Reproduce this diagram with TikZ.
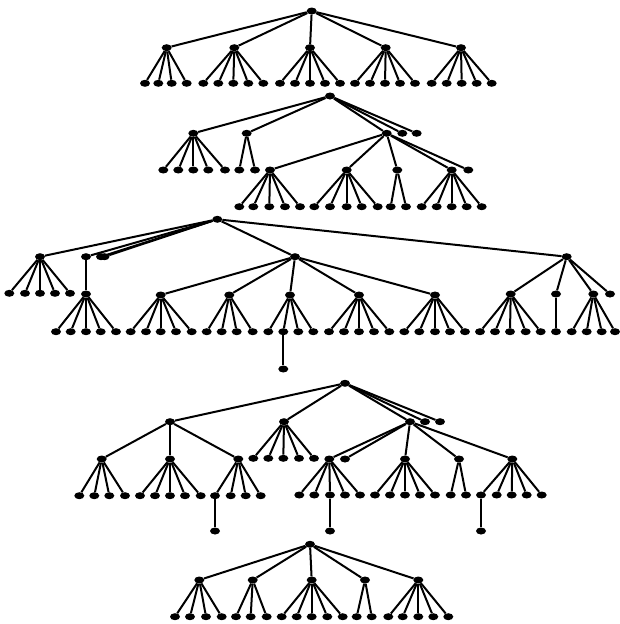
\documentclass[tikz,border=0pt]{standalone}
\usetikzlibrary{shapes.geometric}
\tikzset{
  dot/.style={ellipse,fill=black,draw=none,minimum width=10pt,minimum height=7pt,inner sep=0pt},
  edge/.style={draw=black,line width=2pt}
}
\newcommand\fan[3]{%
  \foreach \xx [count=\ii] in {#3} {%
    \node[dot] (#1-\ii) at (\xx,#2) {};
    \draw[edge] (#1) -- (#1-\ii);
  }}
\begin{document}
\begin{tikzpicture}[x=1pt,y=-1pt]
\useasboundingbox (0,0) rectangle (620,624);
% Tree 1
\node[dot] (r1) at (311.7,11) {};
\fan{r1}{47.7}{166.7,234.3,310,385.7,461}
\fan{r1-1}{83.3}{145,158.3,171.7,186.7}
\fan{r1-2}{83.3}{203.3,218.3,233.3,248.3,263.3}
\fan{r1-3}{83.3}{280,295,310,325,340}
\fan{r1-4}{83.3}{355,370,385,400,415}
\fan{r1-5}{83.3}{431.7,446.7,461.7,476.7,491.7}
% Tree 2
\node[dot] (r2) at (330,96) {};
\fan{r2}{133.3}{193.3,246.7,386.7,402.3,416.7}
\fan{r2-1}{170}{163.3,178.3,193.3,208.3,225}
\fan{r2-2}{170}{239.3,255}
\fan{r2-3}{170}{270,346.7,397.3,451.7,468.3}
\fan{r2-3-1}{206.7}{239.3,253.3,269.3,285,300}
\fan{r2-3-2}{206.7}{314.3,330,346.7,361.7,377.7}
\fan{r2-3-3}{206.7}{390.7,406}
\fan{r2-3-4}{206.7}{421.7,436.7,451.7,466.7,481.7}
% Tree 3
\node[dot] (r3) at (217.3,219.3) {};
\fan{r3}{256.7}{40,86,101,104.5,295,566.7}
\fan{r3-1}{293.3}{9.3,25,40,55,70}
\fan{r3-2}{294}{86}
\fan{r3-2-1}{331.7}{56,70.7,86,100.7,116}
\fan{r3-5}{295}{160.7,229.3,290,359,435}
\fan{r3-5-1}{331.7}{130.7,146,160.7,176,191.7}
\fan{r3-5-2}{331.7}{206.7,221.7,236.7,252.7}
\fan{r3-5-3}{331.7}{268.3,283.3,298.3,313.3}
\fan{r3-5-3-2}{369}{283.3}
\fan{r3-5-4}{331.7}{329,344,359,374,389.3}
\fan{r3-5-5}{331.7}{404.3,419.3,435,450,465}
\fan{r3-6}{294}{510.7,556,593.3,610}
\fan{r3-6-1}{331.7}{480,495,510,525.7,540.7}
\fan{r3-6-2}{331.7}{556}
\fan{r3-6-3}{331.7}{571.7,586.7,601.7,615}
% Tree 4
\node[dot] (r4) at (345,383.3) {};
\fan{r4}{421.7}{170,284,410,425,440}
\fan{r4-1}{459}{101.7,170,238.3}
\fan{r4-1-1}{495.7}{79.3,94.3,109.3,125}
\fan{r4-1-2}{495.7}{140,155,170,185,200.7}
\fan{r4-1-3}{495.7}{215,230.7,245.7,260.7}
\fan{r4-1-3-1}{531}{215}
\fan{r4-2}{458.3}{253.3,268.3,283.3,299,314}
\fan{r4-3}{459}{329.3,345,405,459,512.3}
\fan{r4-3-1}{495}{299.3,314.3,330,345,360}
\fan{r4-3-1-3}{531}{330}
\fan{r4-3-3}{495}{375,390,405,420,435}
\fan{r4-3-4}{495}{450.7,466}
\fan{r4-3-5}{495}{481,496.7,511.7,526.7,541.7}
\fan{r4-3-5-1}{531}{481}
% Tree 5
\node[dot] (r5) at (310,544.3) {};
\fan{r5}{580}{199.3,252.7,311.7,365,418.3}
\fan{r5-1}{616.7}{175,190,206,221.7}
\fan{r5-2}{616.7}{236,250.7,266.7}
\fan{r5-3}{616.7}{281.7,296.7,311.7,327.3,342.7}
\fan{r5-4}{616.7}{356.7,371.7}
\fan{r5-5}{616.7}{388.3,402.7,418.3,433.3,448.3}
\end{tikzpicture}
\end{document}
